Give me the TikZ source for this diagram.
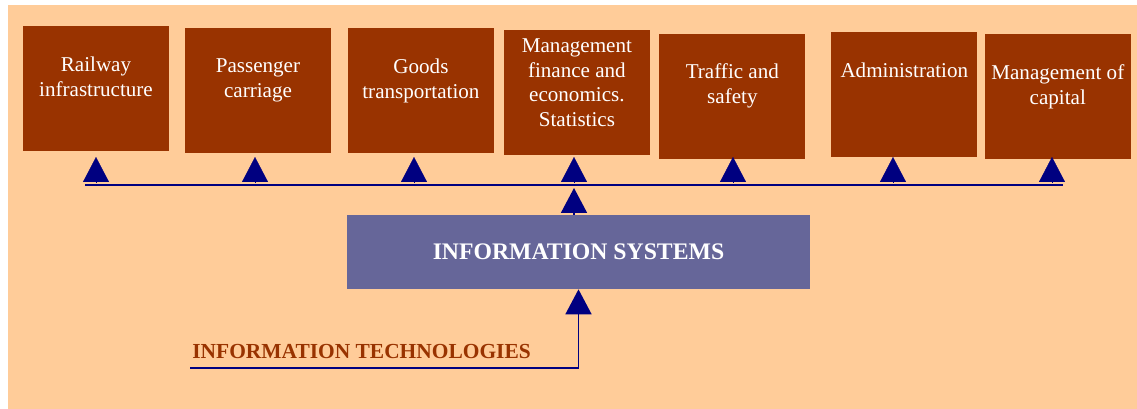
\documentclass[tikz,border=0pt]{standalone}
\usepackage{fontspec}
\setmainfont{Liberation Serif}
\usetikzlibrary{arrows.meta,positioning}

\definecolor{peach}{HTML}{FFCC99}
\definecolor{rust}{HTML}{993300}
\definecolor{slate}{HTML}{666699}
\definecolor{navy}{HTML}{000080}

\begin{document}
\begin{tikzpicture}[x = 0.02cm, y = -0.02cm,
	unit/.style = {fill = rust, minimum width = 2.92cm, minimum height = 2.5cm, inner sep = 0pt},
	caption/.style = {text = white, align = center, inner sep = 0pt, font = \fontsize{12}{13.9}\selectfont},
	sysbox/.style = {fill = slate, minimum width = 9.26cm, minimum height = 1.48cm, text = white, font = \bfseries\fontsize{13.5}{16}\selectfont},
	techlabel/.style = {text = rust, inner sep = 0pt, font = \bfseries\fontsize{12.2}{14}\selectfont},
	link/.style = {navy, line width = 1pt, -{Triangle[length = 0.5cm, width = 0.52cm]}},
	riser/.style = {link, line width = 0.2pt, shorten < = 0.06cm},
	bus/.style = {navy, line width = 1.2pt}]
	\useasboundingbox (0,0) rectangle (1137,409);
	\fill[peach] (8,5) rectangle (1137,409);

	% top row of sections
	\node[unit] (rail) at (96,88.5) {};
	\node[unit] (pass) [node distance = 3.24cm, yshift = -0.04cm] [right of = rail] {};
	\node[unit] (goods) [node distance = 3.26cm] [right of = pass] {};
	\node[unit] (mgmt) [node distance = 3.12cm, yshift = -0.04cm] [right of = goods] {};
	\node[unit] (traf) [node distance = 3.11cm, yshift = -0.08cm] [right of = mgmt] {};
	\node[unit] (admin) [node distance = 3.44cm, yshift = 0.04cm] [right of = traf] {};
	\node[unit] (cap) [node distance = 3.07cm, yshift = -0.04cm] [right of = admin] {};

	\node[caption, below = 0.62cm of rail.north] (railtxt) {Railway\\infrastructure};
	\node[caption, below = 0.62cm of pass.north] (passtxt) {Passenger\\carriage};
	\node[caption, below = 0.62cm of goods.north] (goodstxt) {Goods\\transportation};
	\node[caption, below = 0.18cm of mgmt.north] (mgmttxt) {Management\\finance and\\economics.\\Statistics};
	\node[caption, below = 0.6cm of traf.north] (traftxt) {Traffic and\\safety};
	\node[caption, below = 0.62cm of admin.north] (admintxt) {Administration};
	\node[caption, below = 0.62cm of cap.north] (captxt) {Management of\\capital};

	% systems and technologies
	\node[sysbox] (is) at (578.5,252) {INFORMATION SYSTEMS};
	\node[techlabel] (tech) [anchor = base west] at (192,358) {INFORMATION TECHNOLOGIES};

	\coordinate (busw) at (85,185);
	\coordinate (buse) at (1063,185);
	\coordinate (tiprow) at (0,157);
	\coordinate (b1) at (96,185);
	\coordinate (b2) at (255,185);
	\coordinate (b3) at (414,185);
	\coordinate (b4) at (574,185);
	\coordinate (b5) at (733,185);
	\coordinate (b6) at (893,185);
	\coordinate (b7) at (1052,185);
	\coordinate (hub) at (574,188);
	\coordinate (techend) at (190,368);

	\draw[bus] (busw) -- (buse);
	\draw[riser] (b1) -- (b1 |- tiprow);
	\draw[riser] (b2) -- (b2 |- tiprow);
	\draw[riser] (b3) -- (b3 |- tiprow);
	\draw[riser] (b4) -- (b4 |- tiprow);
	\draw[riser] (b5) -- (b5 |- tiprow);
	\draw[riser] (b6) -- (b6 |- tiprow);
	\draw[riser] (b7) -- (b7 |- tiprow);
	\draw[link] (is.north -| hub) -- (hub);
	\draw[link] (techend) -| (is.south);
\end{tikzpicture}
\end{document}
